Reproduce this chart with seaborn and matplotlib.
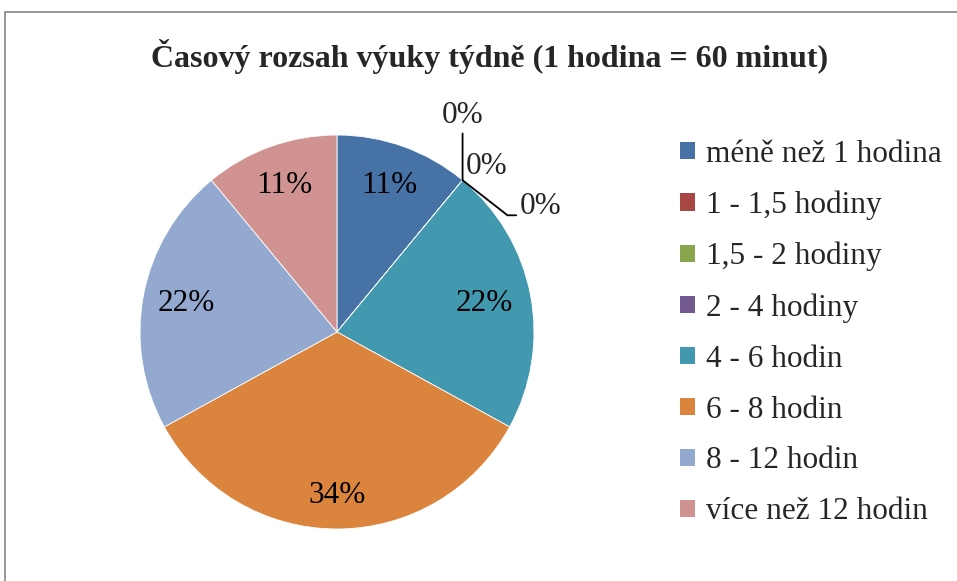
import matplotlib
matplotlib.use("Agg")
import matplotlib.pyplot as plt
import numpy as np
import seaborn as sns
from matplotlib.patches import Rectangle

# data
categories = ["méně než 1 hodina", "1 - 1,5 hodiny", "1,5 - 2 hodiny", "2 - 4 hodiny",
              "4 - 6 hodin", "6 - 8 hodin", "8 - 12 hodin", "více než 12 hodin"]
shares = [11, 0, 0, 0, 22, 34, 22, 11]
slice_colors = ["#4672A6", "#A94745", "#89A54E", "#71588F",
                "#4298AF", "#DB843D", "#93A9CF", "#D19392"]
title = "Časový rozsah výuky týdně (1 hodina = 60 minut)"

sns.set_theme(style="white")
plt.rcParams["font.family"] = ["Liberation Serif", "DejaVu Serif"]

fig = plt.figure(figsize=(9.57, 5.81), dpi=100)
W, H = 957, 581

# outer chart frame
fig.patches.append(Rectangle((5 / W, -0.05), 1.1, 1 - 12.5 / H + 0.05,
                             transform=fig.transFigure, fill=False,
                             edgecolor="#868686", linewidth=1.2))

cx, cy, r = 337, 332, 197
ax = fig.add_axes([(cx - r) / W, (H - cy - r) / H, 2 * r / W, 2 * r / H])
palette = sns.color_palette(slice_colors)

wedges, _ = ax.pie(shares, colors=palette, startangle=90, counterclock=False,
                   radius=1, wedgeprops=dict(linewidth=0.6, edgecolor="white"))
ax.set_xlim(-1, 1)
ax.set_ylim(-1, 1)
ax.set_aspect("equal")
ax.axis("off")

# labels for non-zero slices inside the pie
label_dist = [0.79, 0, 0, 0, 0.76, 0.83, 0.78, 0.79]
for w, val, d in zip(wedges, shares, label_dist):
    if val == 0:
        continue
    ang = np.deg2rad((w.theta1 + w.theta2) / 2)
    ax.text(d * np.cos(ang), d * np.sin(ang), f"{val}%", ha="center", va="center",
            fontsize=22.5, color="black")

# zero slices: labels with leader lines
zero_idx = [i for i, v in enumerate(shares) if v == 0]
line_kw = dict(arrowstyle="-", color="black", lw=1.3, shrinkA=0, shrinkB=0)
for k, i in enumerate(zero_idx):
    ang = np.deg2rad(wedges[i].theta1)
    pt = (np.cos(ang), np.sin(ang))
    if k == 0:
        ax.annotate("0%", pt, xytext=(0, 36), textcoords="offset points",
                    ha="center", va="bottom", fontsize=22.5,
                    arrowprops=dict(**line_kw))
    elif k == 1:
        ax.annotate("0%", pt, xytext=(17, 10), textcoords="offset points",
                    ha="center", va="center", fontsize=22.5)
    else:
        ax.annotate("0%", pt, xytext=(41, -19), textcoords="offset points",
                    ha="left", va="center", fontsize=22.5,
                    arrowprops=dict(**line_kw, relpos=(0, 0.2),
                                    connectionstyle="angle,angleA=0,angleB=-38,rad=0"))

fig.text(490 / W, 1 - 57 / H, title, ha="center", va="center",
         fontsize=23, fontweight="bold")

handles = [Rectangle((0, 0), 1, 1, facecolor=c, edgecolor="none") for c in palette]
fig.legend(handles, categories, loc="center left", bbox_to_anchor=(680 / W, 1 - 333 / H),
           frameon=False, fontsize=22.5, handlelength=0.48, handleheight=0.48,
           handletextpad=0.35, labelspacing=0.7, borderpad=0, borderaxespad=0)

fig.savefig("out.png", dpi=100)
